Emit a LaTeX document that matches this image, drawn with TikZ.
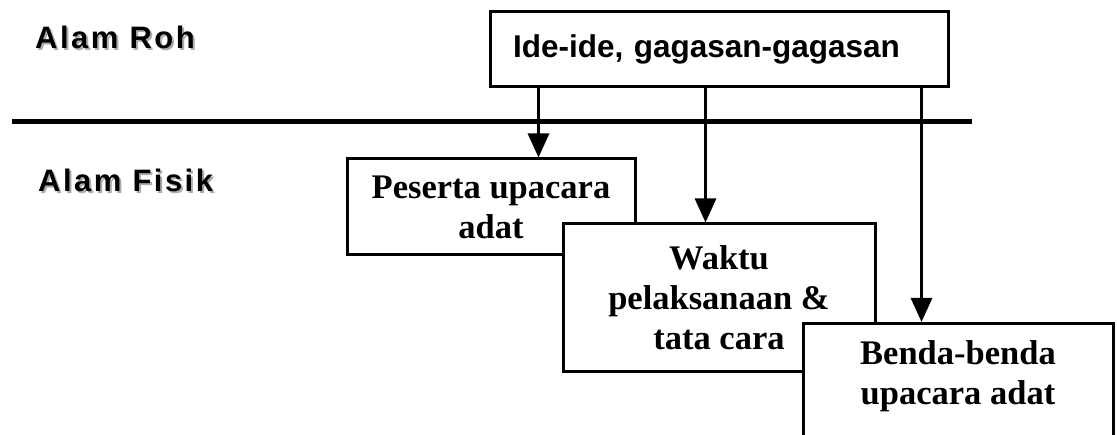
\documentclass[tikz,border=0pt]{standalone}
\usepackage{fontspec}
\setmainfont{Liberation Serif}
\setsansfont{Liberation Sans}
\usetikzlibrary{arrows.meta,positioning,calc}

\begin{document}
\begin{tikzpicture}[
  x=1pt, y=-1pt,
  >={Triangle[length=24pt,width=21pt]},
  ideabox/.style={
    draw,
    fill=white,
    line width=3pt,
    minimum width=458pt,
    minimum height=75pt,
    text width=412pt,
    inner xsep=23pt,
    align=left,
    font=\sffamily\bfseries\fontsize{31.5}{36}\selectfont
  },
  realmbox/.style={
    draw,
    fill=white,
    line width=3pt,
    inner sep=0pt,
    align=center,
    font=\bfseries\fontsize{34.5}{40}\selectfont
  },
  realmtext/.style={
    inner sep=0pt,
    align=center,
    font=\bfseries\fontsize{34.5}{40}\selectfont
  },
  realmlabel/.style={
    inner sep=0pt,
    anchor=base west,
    font=\sffamily\bfseries\fontsize{31}{36}\selectfont\addfontfeature{LetterSpace=8}
  },
  flowarrow/.style={->, line width=3pt},
  divider/.style={line width=5pt}
]

  \clip (0,0) rectangle (1117,435);

  % --- Realm labels (with soft drop shadow) ---
  \node[realmlabel, text=gray!65] (rohshadow) at (37,51) {Alam Roh};
  \node[realmlabel] (roh) at (35,49) {Alam Roh};
  \node[realmlabel, text=gray!65] (fisikshadow) at (40,194) {Alam Fisik};
  \node[realmlabel] (fisik) at (38,192) {Alam Fisik};

  % --- Boundary between the two realms ---
  \draw[divider] (12,122) -- (972,122);

  % --- Source: ideas ---
  \node[ideabox] (ide) at (719,49.5) {Ide-ide, gagasan-gagasan};

  % --- Physical manifestations, stacked left to right ---
  \node[realmbox, minimum width=288pt, minimum height=96pt] (peserta) at (491,207) {Peserta upacara\\adat};
  \node[realmbox, minimum width=312pt, minimum height=148pt] (waktu) at (719,298) {Waktu\\pelaksanaan \&\\tata cara};
  \node[realmbox, minimum width=310pt, minimum height=160pt, anchor=north] (benda) at (958,322) {};
  \node[realmtext] (bendatext) at (958,376) {Benda-benda\\upacara adat};

  % Arrows from the ideas down into each physical form
  \draw[flowarrow] ([xshift=50pt]ide.south west) -- ([xshift=50pt]ide.south west |- peserta.north);
  \draw[flowarrow] ([xshift=217pt]ide.south west) -- ([xshift=217pt]ide.south west |- waktu.north);
  \draw[flowarrow] ([xshift=433pt]ide.south west) -- ([xshift=433pt]ide.south west |- benda.north);

\end{tikzpicture}
\end{document}
